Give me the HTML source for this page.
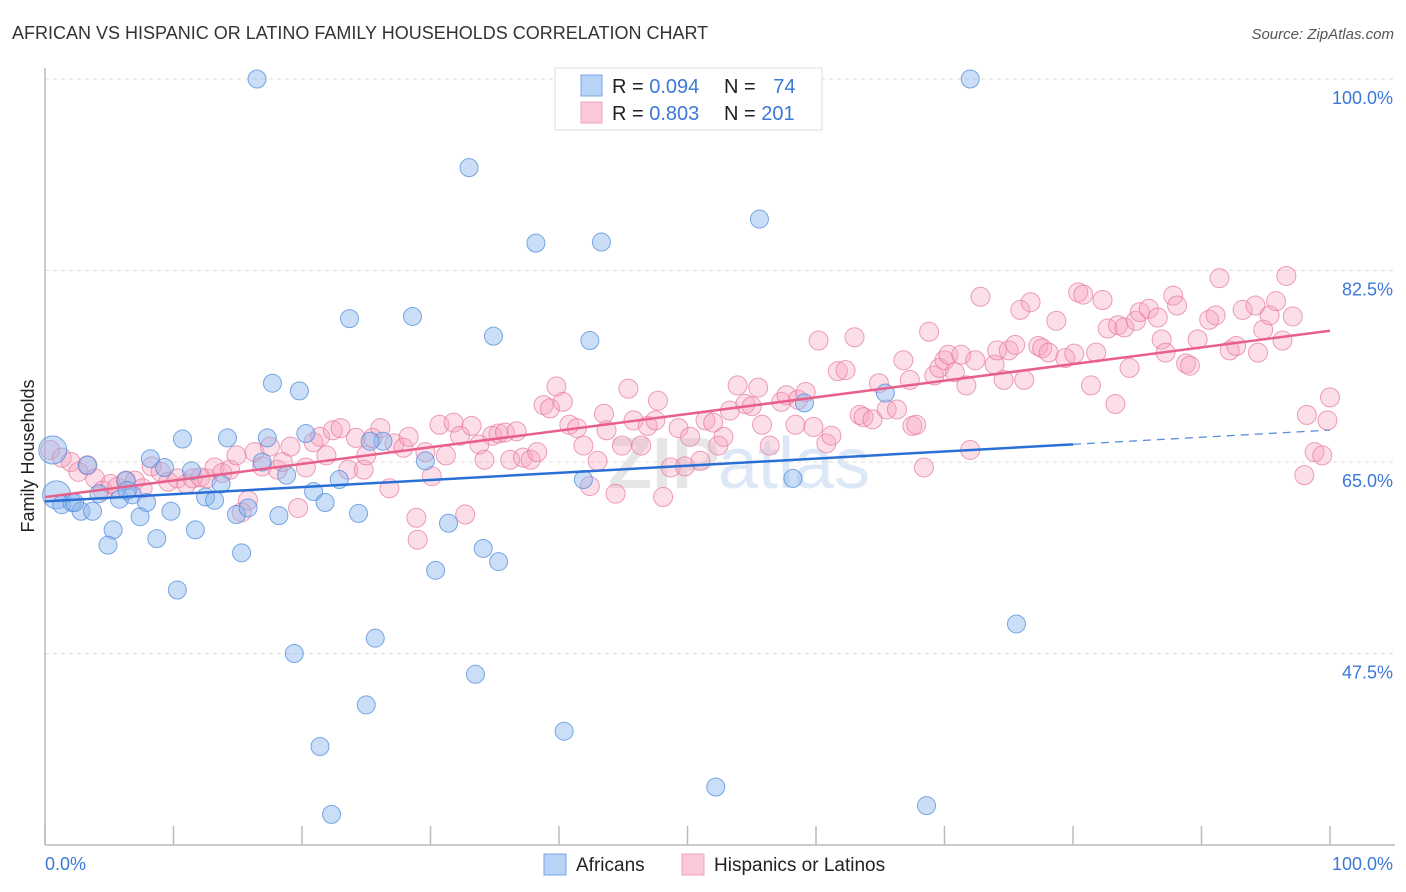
<!DOCTYPE html>
<html><head><meta charset="utf-8"><style>
body{margin:0;background:#fff;font-family:"Liberation Sans",sans-serif;}
#wrap{position:relative;width:1406px;height:892px;overflow:hidden;}
</style></head><body>
<div id="wrap">
<svg id="chart" width="1406" height="892" xmlns="http://www.w3.org/2000/svg">
<text x="12" y="39" font-size="18" fill="#333">AFRICAN VS HISPANIC OR LATINO FAMILY HOUSEHOLDS CORRELATION CHART</text>
<text x="1394" y="39" font-size="15" fill="#555" font-style="italic" text-anchor="end">Source: ZipAtlas.com</text>
<text x="720" y="488" font-size="72" font-weight="bold" fill="#e6e6e6" text-anchor="end">ZIP</text>
<text x="718" y="488" font-size="72" fill="#dce8f6">atlas</text>
<g id="grid"></g>
<line x1="45" y1="68" x2="45" y2="845" stroke="#bbb" stroke-width="1.5"/>
<line x1="45" y1="845" x2="1395" y2="845" stroke="#bbb" stroke-width="1.5"/>
<g id="xticks"></g>
<text transform="translate(34,456) rotate(-90)" font-size="18" fill="#222" text-anchor="middle">Family Households</text>
<text x="45" y="870" font-size="18" fill="#3b78d8">0.0%</text>
<text x="1393" y="870" font-size="18" fill="#3b78d8" text-anchor="end">100.0%</text>
<g id="pinkpts"></g>
<g id="bluepts"></g>
<g id="lines"></g>
<g>
<rect x="555" y="68" width="267" height="62" fill="#fff" stroke="#ddd"/>
<rect x="581" y="75" width="21" height="21" fill="#b8d3f5" stroke="#7aa6e6"/>
<rect x="581" y="102" width="21" height="21" fill="#fac8d8" stroke="#eea4bc"/>
<text x="612" y="93" font-size="20" fill="#222">R = <tspan fill="#3b78d8">0.094</tspan></text>
<text x="724" y="93" font-size="20" fill="#222">N = <tspan fill="#3b78d8" dx="12">74</tspan></text>
<text x="612" y="120" font-size="20" fill="#222">R = <tspan fill="#3b78d8">0.803</tspan></text>
<text x="724" y="120" font-size="20" fill="#222">N = <tspan fill="#3b78d8">201</tspan></text>
</g>
<g>
<rect x="544" y="854" width="22" height="21" fill="#b8d3f5" stroke="#7aa6e6"/>
<text x="576" y="871" font-size="19" fill="#222">Africans</text>
<rect x="682" y="854" width="22" height="21" fill="#fac8d8" stroke="#eea4bc"/>
<text x="714" y="871" font-size="19" fill="#222">Hispanics or Latinos</text>
</g>
</svg>
</div>
<script>
const yTicks=[100,82.5,65,47.5];
const yTickLabels=["100.0%","82.5%","65.0%","47.5%"];
const xTickVals=[0,10,20,30,40,50,60,70,80,90,100];
const blueX=[16.5,72.0,33.0,38.2,43.3,55.6,23.7,28.6,34.9,42.4,17.7,19.8,59.1,10.7,14.2,17.3,20.3,26.3,25.3,29.6,8.2,9.3,3.3,0.6,0.9,1.3,2.1,2.8,3.7,4.2,5.8,5.3,4.9,6.3,6.8,7.9,7.4,8.7,9.8,10.3,11.4,11.7,12.5,13.2,13.7,14.9,15.8,15.3,16.9,18.2,18.8,20.9,21.8,22.9,24.4,25.7,19.4,25.0,21.4,22.3,31.4,30.4,34.1,35.3,33.5,40.4,41.9,52.2,68.6,58.2,65.4,75.6,2.3,6.4];
const blueY=[100,100,91.9,85.0,85.1,87.2,78.1,78.3,76.5,76.1,72.2,71.5,70.4,67.1,67.2,67.2,67.6,66.9,66.9,65.1,65.3,64.5,64.7,66.1,62.0,61.1,61.3,60.5,60.5,62.1,61.6,58.8,57.4,63.3,62.0,61.3,60.0,58.0,60.5,53.3,64.2,58.8,61.8,61.5,63.0,60.2,60.8,56.7,65.0,60.1,63.8,62.3,61.3,63.4,60.3,48.9,47.5,42.8,39.0,32.8,59.4,55.1,57.1,55.9,45.6,40.4,63.4,35.3,33.6,63.5,71.3,50.2,61.3,62.4];
const blueBig=[23,24];
const pinkX=[0.4,1.3,2.0,2.6,3.3,3.9,4.5,5.1,5.6,6.3,7.0,7.6,8.3,9.0,9.6,10.3,11.0,11.5,12.1,12.6,13.2,13.8,14.4,14.9,15.8,15.3,16.3,16.9,17.5,18.1,18.5,19.1,19.7,20.3,20.9,21.4,21.9,22.4,23.0,23.6,24.2,24.8,25.0,25.5,26.1,26.8,27.2,27.9,28.3,28.9,29.0,29.6,30.1,30.7,31.2,31.8,32.3,32.7,33.2,33.8,34.2,34.8,35.3,35.8,36.2,36.7,37.2,37.8,38.3,38.8,39.3,39.8,40.3,40.8,41.4,41.9,42.4,43.0,43.5,43.7,44.4,44.9,45.4,45.8,46.4,46.9,47.5,47.7,48.1,48.7,49.3,49.8,50.2,51.0,51.4,52.0,52.4,52.8,53.3,53.9,54.5,55.0,55.5,55.8,56.4,57.3,57.7,58.4,58.6,59.2,59.8,60.2,60.8,61.2,61.7,62.3,63.0,63.4,63.7,64.4,64.9,65.5,66.3,66.8,67.3,67.5,67.8,68.4,68.8,69.2,69.6,70.0,70.3,70.8,71.3,71.7,72.0,72.4,72.8,73.9,74.1,74.6,75.0,75.5,75.9,76.2,76.7,77.3,77.6,78.1,78.7,79.4,80.1,80.4,80.8,81.4,81.8,82.3,82.7,83.3,83.5,84.0,84.4,84.9,85.2,85.9,86.6,86.9,87.2,87.8,88.1,88.8,89.1,89.7,90.6,91.1,91.4,92.2,92.7,93.2,94.2,94.4,94.8,95.3,95.8,96.6,97.1,96.3,98.2,98.8,99.4,98.0,100.0,99.8];
const pinkY=[66.1,65.4,65.0,64.1,64.7,63.5,62.4,63.0,62.7,63.3,63.3,62.6,64.6,64.1,63.2,63.5,63.0,63.5,63.6,63.5,64.5,64.0,64.3,65.6,61.5,60.4,65.9,64.6,66.4,64.3,65.0,66.4,60.8,64.5,66.8,67.3,65.6,67.9,68.1,64.3,67.2,64.3,65.6,67.2,68.1,62.6,66.7,66.3,67.3,59.9,57.9,65.9,63.7,68.4,65.6,68.6,67.4,60.2,68.3,66.6,65.2,67.4,67.6,67.7,65.2,67.8,65.4,65.2,65.9,70.2,69.9,71.9,70.5,68.4,68.1,66.5,62.8,65.1,69.4,67.9,62.1,66.5,71.7,68.8,66.5,68.3,68.8,70.6,61.8,64.5,68.1,64.6,67.3,65.1,68.8,68.6,66.5,67.3,69.7,72.0,70.3,70.1,71.8,68.4,66.5,70.5,71.1,68.4,70.7,71.4,68.2,76.1,66.7,67.4,73.3,73.4,76.4,69.3,69.1,68.9,72.2,69.8,69.8,74.3,72.5,68.3,68.4,64.5,76.9,72.9,73.6,74.3,74.8,73.2,74.8,72.0,66.1,74.3,80.1,73.9,75.2,72.5,75.2,75.7,78.9,72.5,79.6,75.6,75.4,75.0,77.9,74.5,74.9,80.5,80.3,72.0,75.0,79.8,77.2,70.3,77.5,77.3,73.6,77.9,78.7,79.0,78.2,76.2,75.0,80.2,79.3,74.0,73.8,76.2,78.0,78.4,81.8,75.2,75.6,78.9,79.3,75.0,77.1,78.4,79.7,82.0,78.3,76.1,69.3,65.9,65.6,63.8,70.9,68.8];

const NS='http://www.w3.org/2000/svg';
const X0=45,X1=1330;
function xs(v){return X0+(X1-X0)*v/100;}
function ys(v){return 79+(100-v)*(191.5/17.5);}
function mk(tag,attrs,parent){const e=document.createElementNS(NS,tag);for(const k in attrs)e.setAttribute(k,attrs[k]);parent.appendChild(e);return e;}

const grid=document.getElementById('grid');
yTicks.forEach((t,i)=>{
  const l=mk('line',{x1:45,x2:1395,y1:ys(t),y2:ys(t),stroke:'#ddd','stroke-dasharray':'4,4'},grid);
  
  
  const tx=mk('text',{x:1393,y:ys(t)+25,'font-size':18,fill:'#3b78d8','text-anchor':'end'},grid);
  tx.textContent=yTickLabels[i];
  
  
});
const xt=document.getElementById('xticks');
xTickVals.forEach(v=>{
  const l=mk('line',{x1:xs(v),x2:xs(v),y1:826,y2:845,stroke:'#bbb','stroke-width':1.5},xt);
  
  
});
const pg=document.getElementById('pinkpts');
pinkX.forEach((x,i)=>{
  const c=mk('circle',{cx:xs(x),cy:ys(pinkY[i]),r:9.5,fill:'rgba(246,160,188,0.35)',stroke:'rgba(230,120,155,0.7)','stroke-width':1},pg);
  
  
});
const bg=document.getElementById('bluepts');
blueX.forEach((x,i)=>{
  const big=blueBig.indexOf(i)>=0;
  const c=mk('circle',{cx:xs(x),cy:ys(blueY[i]),r:big?14:9,fill:'rgba(140,182,238,0.45)',stroke:'rgba(80,140,220,0.75)','stroke-width':1},bg);
  
  
});
function fit(X,Y){const n=X.length;let sx=0,sy=0,sxx=0,sxy=0;for(let i=0;i<n;i++){sx+=X[i];sy+=Y[i];sxx+=X[i]*X[i];sxy+=X[i]*Y[i];}const b=(n*sxy-sx*sy)/(n*sxx-sx*sx);return [ (sy-b*sx)/n, b];}
const lg=document.getElementById('lines');
const pf=fit(pinkX,pinkY);
const pl=mk('line',{x1:xs(0),y1:ys(pf[0]),x2:xs(100),y2:ys(pf[0]+pf[1]*100),stroke:'#e8608a','stroke-width':2.5},lg);


const bf=fit(blueX,blueY);
const bl=mk('line',{x1:xs(0),y1:ys(bf[0]),x2:xs(80),y2:ys(bf[0]+bf[1]*80),stroke:'#2a6fd6','stroke-width':2.5},lg);


const bd=mk('line',{x1:xs(80),y1:ys(bf[0]+bf[1]*80),x2:xs(100),y2:ys(bf[0]+bf[1]*100),stroke:'#5b8fdc','stroke-width':1.3,'stroke-dasharray':'8,6'},lg);


</script>
</body></html>
